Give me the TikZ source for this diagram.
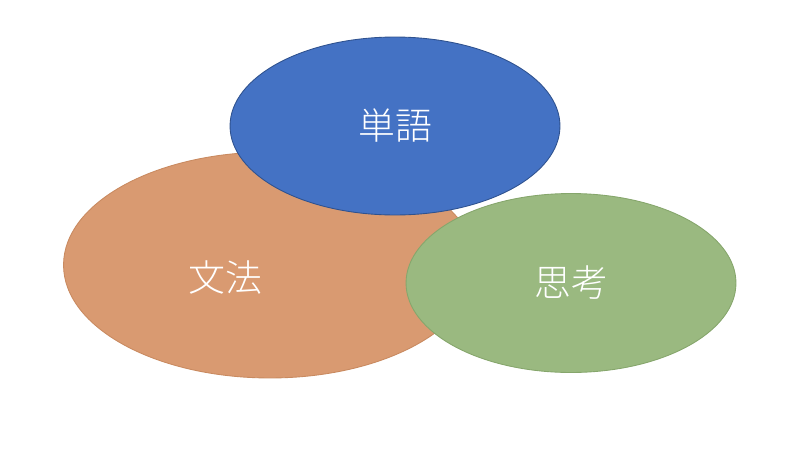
\documentclass[tikz,border=0pt]{standalone}
\usepackage{fontspec}
\newfontfamily\jpfont{Noto Sans CJK JP Light}
\usetikzlibrary{shapes.geometric}
\definecolor{tangoblue}{HTML}{4472C4}
\definecolor{tangoblueline}{HTML}{2F528F}
\definecolor{bunorange}{HTML}{D99A71}
\definecolor{bunorangeline}{HTML}{C98A60}
\definecolor{shigreen}{HTML}{9AB980}
\definecolor{shigreenline}{HTML}{86A66C}
\tikzset{
  blob/.style={ellipse, inner sep=0pt, line width=0.5pt},
  word/.style={text=white, font=\jpfont\fontsize{21}{21}\selectfont}
}
\begin{document}
\begin{tikzpicture}[x=0.02cm, y=-0.02cm]
                    \useasboundingbox (0,0) rectangle (800,450);
                    % ellipses, back to front
                    \node[blob, draw=bunorangeline, fill=bunorange,
                          minimum width=8.26cm, minimum height=4.52cm] (bunpo) at (270,265) {};
                    \node[blob, draw=tangoblueline, fill=tangoblue,
                          minimum width=6.6cm, minimum height=3.56cm] (tango) at (395,126) {};
                    \node[blob, draw=shigreenline, fill=shigreen,
                          minimum width=6.6cm, minimum height=3.58cm] (shiko) at (571,283) {};
                    % labels
                    \node[word] (bunpolbl) at (225,278) {文法};
                    \node[word] at (tango) {単語};
                    \node[word] at (shiko) {思考};
                \end{tikzpicture}
\end{document}
